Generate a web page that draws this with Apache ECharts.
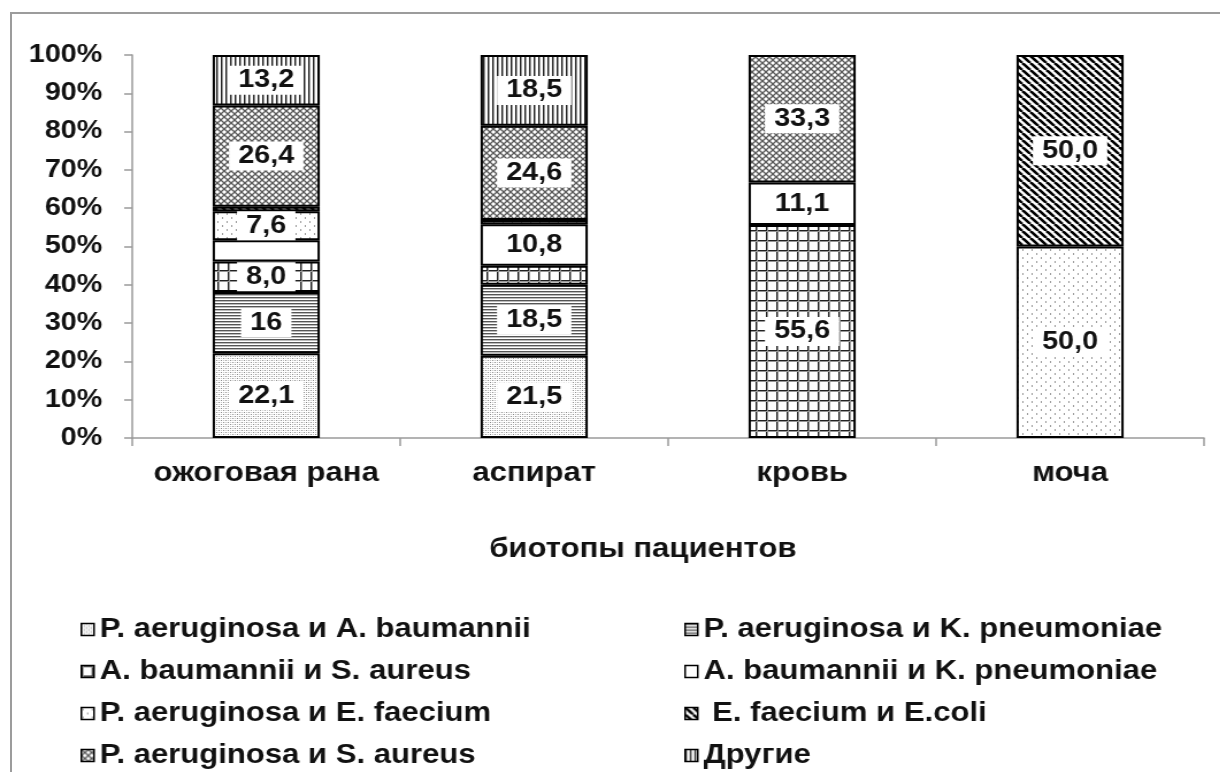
<!DOCTYPE html>
<html>
<head>
<meta charset="utf-8">
<script src="https://cdn.jsdelivr.net/npm/echarts@6/dist/echarts.min.js"></script>
<style>
  html, body { margin: 0; padding: 0; background: #fff; overflow: hidden; }
  #frame { position: absolute; left: 10px; top: 12px; width: 1400px; height: 1000px;
           border: 2px solid #9c9c9c; box-sizing: border-box; }
  #chart { position: absolute; left: 0; top: 0; width: 1061px; height: 860px;
           transform: scaleX(1.15); transform-origin: 0 0; }
</style>
</head>
<body>
<div id="frame"></div>
<div id="chart"></div>
<script>
// Biotopes (x categories)
const categories = ['ожоговая рана', 'аспират', 'кровь', 'моча'];

// Share of each association per biotope, %
const pAerABaum  = [22.1, 21.5, null, null];
const pAerKPneu  = [16,   18.5, null, null];
const aBaumSAur  = [8.0,  5.0,  55.6, null];
const aBaumKPneu = [5.5,  10.8, 11.1, null];
const pAerEFaec  = [7.6,  1.1,  null, 50.0];
const eFaecEColi = [1.2,  null, null, 50.0];
const pAerSAur   = [26.4, 24.6, 33.3, null];
const others     = [13.2, 18.5, null, null];

// Printed value labels (null = segment left unlabelled)
const pAerABaumLbl  = ['22,1', '21,5', null, null];
const pAerKPneuLbl  = ['16',   '18,5', null, null];
const aBaumSAurLbl  = ['8,0',  null,   '55,6', null];
const aBaumKPneuLbl = [null,   '10,8', '11,1', null];
const pAerEFaecLbl  = ['7,6',  null,   null,   '50,0'];
const eFaecEColiLbl = [null,   null,   null,   '50,0'];
const pAerSAurLbl   = ['26,4', '24,6', '33,3', null];
const othersLbl     = ['13,2', '18,5', null,   null];

// Y axis tick labels
const yTicks = ['0%', '10%', '20%', '30%', '40%', '50%', '60%', '70%', '80%', '90%', '100%'];

const seriesNames = [
  'P. aeruginosa и A. baumannii',
  'P. aeruginosa и K. pneumoniae',
  'A. baumannii и S. aureus',
  'A. baumannii и K. pneumoniae',
  'P. aeruginosa и E. faecium',
  ' E. faecium и E.coli',
  'P. aeruginosa и S. aureus',
  'Другие'
];

const FONT = '"Liberation Sans", Arial, sans-serif';

// ---- hatch fills built as small repeating canvas tiles ----
function tile(w, h, draw) {
  const c = document.createElement('canvas');
  c.width = w; c.height = h;
  const g = c.getContext('2d');
  g.fillStyle = '#fff';
  g.fillRect(0, 0, w, h);
  draw(g, w, h);
  return { image: c, repeat: 'repeat' };
}

const fills = [
  // fine dotted columns
  tile(4, 4, g => {
    g.fillStyle = '#8a8a8a'; g.fillRect(0, 0, 1, 1); g.fillRect(2, 2, 1, 1);
    g.fillStyle = '#c4c4c4'; g.fillRect(0, 2, 1, 1); g.fillRect(2, 0, 1, 1);
  }),
  // dense horizontal lines
  tile(2, 3, g => {
    g.fillStyle = '#555'; g.fillRect(0, 0, 2, 1);
    g.fillStyle = '#bbb'; g.fillRect(0, 1, 2, 1);
  }),
  // large square grid
  tile(9, 10, g => {
    g.fillStyle = '#222'; g.fillRect(0, 0, 9, 1); g.fillRect(0, 0, 1, 10);
    g.fillStyle = '#999'; g.fillRect(0, 1, 9, 1); g.fillRect(1, 0, 1, 10);
  }),
  // plain white
  '#ffffff',
  // sparse dots
  tile(8, 8, g => {
    g.fillStyle = '#9a9a9a'; g.fillRect(1, 1, 1, 2); g.fillRect(5, 5, 1, 2);
  }),
  // heavy diagonal stripes
  tile(7, 7, g => {
    g.strokeStyle = '#000'; g.lineWidth = 2.6;
    [-7, 0, 7].forEach(o => { g.beginPath(); g.moveTo(o, 0); g.lineTo(o + 7, 7); g.stroke(); });
  }),
  // small diagonal crosshatch
  tile(6, 6, g => {
    g.strokeStyle = '#5a5a5a'; g.lineWidth = 1.3;
    [-6, 0, 6].forEach(o => {
      g.beginPath(); g.moveTo(o, 0); g.lineTo(o + 6, 6); g.stroke();
      g.beginPath(); g.moveTo(o, 6); g.lineTo(o + 6, 0); g.stroke();
    });
  }),
  // vertical lines
  tile(4, 1, g => {
    g.fillStyle = '#222'; g.fillRect(0, 0, 1, 1);
    g.fillStyle = '#9a9a9a'; g.fillRect(1, 0, 1, 1);
  })
];

const values = [pAerABaum, pAerKPneu, aBaumSAur, aBaumKPneu, pAerEFaec, eFaecEColi, pAerSAur, others];
const labels = [pAerABaumLbl, pAerKPneuLbl, aBaumSAurLbl, aBaumKPneuLbl, pAerEFaecLbl, eFaecEColiLbl, pAerSAurLbl, othersLbl];

const series = values.map((vals, s) => ({
  name: seriesNames[s],
  type: 'bar',
  stack: 'total',
  barWidth: '40%',
  data: vals.map((v, i) => ({
    value: v,
    label: { show: labels[s][i] != null, formatter: labels[s][i] || '' }
  })),
  itemStyle: { color: fills[s], borderColor: '#000', borderWidth: 2 },
  label: {
    position: 'inside',
    backgroundColor: '#fff',
    padding: [2, 8],
    fontFamily: FONT,
    fontSize: 25,
    fontWeight: 'bold',
    color: '#111'
  },
  emphasis: { disabled: true }
}));

const legendCommon = {
  orient: 'vertical',
  top: 611,
  itemGap: 15,
  itemWidth: 11,
  itemHeight: 12,
  icon: 'rect',
  selectedMode: false,
  itemStyle: { borderColor: '#000', borderWidth: 1.5 },
  textStyle: { fontFamily: FONT, fontSize: 27, fontWeight: 'bold', color: '#111', lineHeight: 27 }
};

const chart = echarts.init(document.getElementById('chart'), null, { renderer: 'canvas' });
chart.setOption({
  animation: false,
  backgroundColor: 'transparent',
  grid: { left: 115, right: 14, top: 55, bottom: 422 },
  xAxis: {
    type: 'category',
    data: categories,
    axisLine: { lineStyle: { color: '#9a9a9a', width: 1.5 } },
    axisTick: { show: true, length: 8, lineStyle: { color: '#9a9a9a', width: 1.5 } },
    axisLabel: { interval: 0, margin: 22, fontFamily: FONT, fontSize: 27, fontWeight: 'bold', color: '#111' }
  },
  yAxis: {
    type: 'value',
    min: 0, max: 100, interval: 10,
    splitLine: { show: false },
    axisLine: { show: true, lineStyle: { color: '#9a9a9a', width: 1.5 } },
    axisTick: { show: true, length: 7, lineStyle: { color: '#9a9a9a', width: 1.5 } },
    axisLabel: {
      margin: 26,
      formatter: v => yTicks[Math.round(v / 10)],
      fontFamily: FONT, fontSize: 25, fontWeight: 'bold', color: '#111'
    }
  },
  legend: [
    Object.assign({}, legendCommon, { left: 65, data: [seriesNames[0], seriesNames[2], seriesNames[4], seriesNames[6]] }),
    Object.assign({}, legendCommon, { left: 590, data: [seriesNames[1], seriesNames[3], seriesNames[5], seriesNames[7]] })
  ],
  graphic: [{
    type: 'text',
    x: 559, y: 550,
    style: {
      text: 'биотопы пациентов',
      fontFamily: FONT, fontSize: 27, fontWeight: 'bold', fill: '#111',
      align: 'center', verticalAlign: 'middle'
    }
  }],
  series: series
});
</script>
</body>
</html>
